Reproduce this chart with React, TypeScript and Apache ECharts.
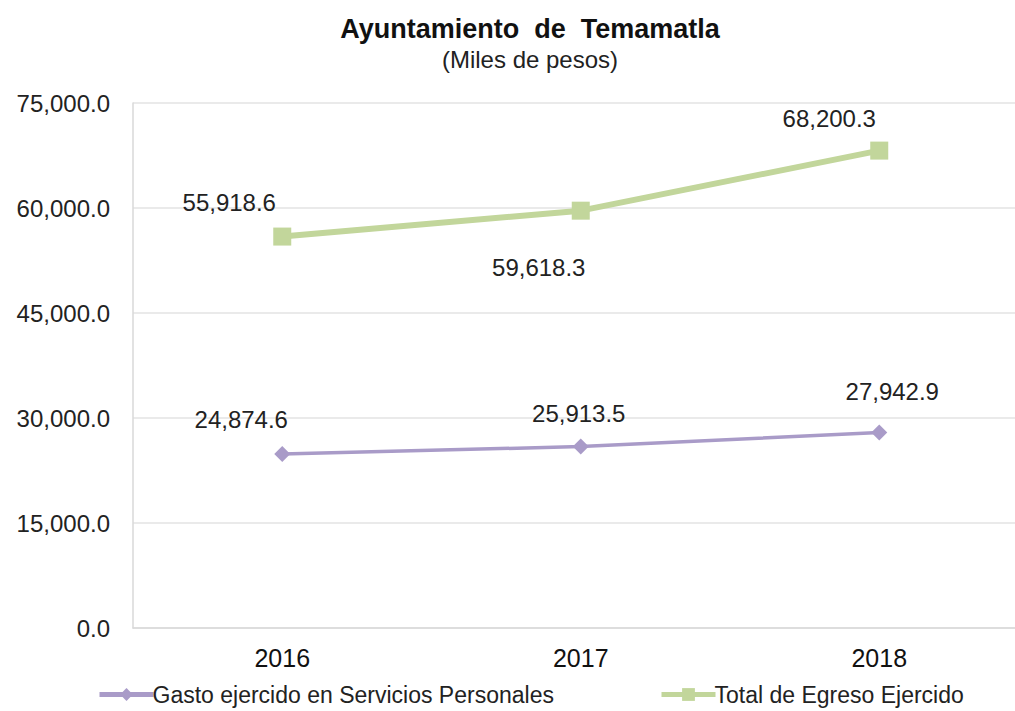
import React, { useEffect, useRef } from "react";
import * as echarts from "echarts";

const categories = ["2016", "2017", "2018"];
const gastoServicios = [24874.6, 25913.5, 27942.9];
const totalEgreso = [55918.6, 59618.3, 68200.3];
const yTicks = { min: 0, max: 75000, interval: 15000 };

const seriesNames = ["Gasto ejercido en Servicios Personales", "Total de Egreso Ejercido"];

// label offsets (style only)
const gastoOffsets = [[-41, -34], [-2, -33], [13, -41]];
const totalOffsets = [[-53, -34], [-42, 57], [-50, -32]];

const FONT = "'Liberation Sans', Arial, sans-serif";
const fmt = (v: number) =>
  v.toLocaleString("en-US", { minimumFractionDigits: 1, maximumFractionDigits: 1 });

export default function App() {
  const ref = useRef<HTMLDivElement>(null);
  useEffect(() => {
    if (!ref.current) return;
    const chart = echarts.init(ref.current, undefined, { renderer: "svg" });
    const mk = (vals: number[], offs: number[][]) =>
      vals.map((v, i) => ({
        value: v,
        label: { offset: offs[i] },
      }));
    const legendText = { fontFamily: FONT, fontSize: 23, color: "#222", padding: [0, 0, 0, -6] };
    const legendBase = {
      top: 683,
      itemWidth: 54,
      itemHeight: 16,
      padding: 0,
      textStyle: legendText,
      lineStyle: { width: 5 },
    };
    chart.setOption({
      animation: false,
      backgroundColor: "#ffffff",
      title: {
        text: "Ayuntamiento  de  Temamatla",
        subtext: "(Miles de pesos)",
        left: 525,
        top: 10,
        textAlign: "center",
        itemGap: 5,
        textStyle: { fontFamily: FONT, fontSize: 27, fontWeight: "bold", color: "#111" },
        subtextStyle: { fontFamily: FONT, fontSize: 24, color: "#222" },
      },
      grid: { left: 133, right: 3.5, top: 103, bottom: 83, containLabel: false },
      legend: [
        { ...legendBase, left: 97, data: [seriesNames[0]] },
        { ...legendBase, left: 659, data: [seriesNames[1]] },
      ],
      xAxis: {
        type: "category",
        data: categories,
        boundaryGap: true,
        axisLine: { show: true, lineStyle: { color: "#d9d9d9", width: 1.5 } },
        axisTick: { show: false },
        axisLabel: {
          fontFamily: FONT,
          fontSize: 25,
          color: "#111",
          margin: 17,
        },
      },
      yAxis: {
        type: "value",
        min: yTicks.min,
        max: yTicks.max,
        interval: yTicks.interval,
        axisLine: { show: true, lineStyle: { color: "#d9d9d9", width: 1.5 } },
        axisTick: { show: false },
        splitLine: { lineStyle: { color: "#e3e3e3", width: 1.5 } },
        axisLabel: {
          fontFamily: FONT,
          fontSize: 24,
          color: "#222",
          margin: 23,
          formatter: (v: number) => fmt(v),
        },
      },
      series: [
        {
          name: seriesNames[0],
          type: "line",
          data: mk(gastoServicios, gastoOffsets),
          symbol: "diamond",
          symbolSize: 16,
          lineStyle: { color: "#a99bc8", width: 3.5 },
          itemStyle: { color: "#a99bc8" },
          label: {
            show: true,
            position: "inside",
            fontFamily: FONT,
            fontSize: 24,
            color: "#222",
            formatter: (p: any) => fmt(p.value),
          },
        },
        {
          name: seriesNames[1],
          type: "line",
          data: mk(totalEgreso, totalOffsets),
          symbol: "rect",
          symbolSize: 18,
          lineStyle: { color: "#c2d69b", width: 6 },
          itemStyle: { color: "#c2d69b" },
          label: {
            show: true,
            position: "inside",
            fontFamily: FONT,
            fontSize: 24,
            color: "#222",
            formatter: (p: any) => fmt(p.value),
          },
        },
      ],
    });
    return () => chart.dispose();
  }, []);
  return (
    <div style={{ position: "fixed", left: 0, top: 0, width: 1015, height: 711, overflow: "hidden", background: "#fff" }}>
      <div ref={ref} style={{ width: 1032, height: 711 }} />
    </div>
  );
}
